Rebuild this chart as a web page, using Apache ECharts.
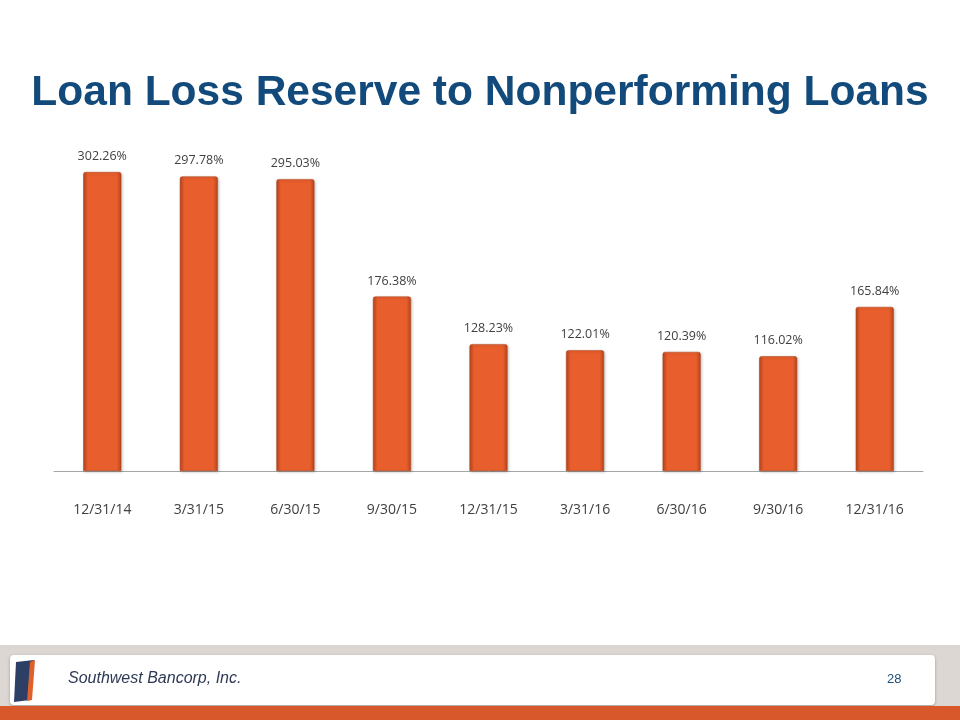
<!DOCTYPE html>
<html><head><meta charset="utf-8">
<script src="https://cdn.jsdelivr.net/npm/echarts@6/dist/echarts.min.js"></script>
<style>html,body{margin:0;padding:0;background:#fff}#c{width:960px;height:720px}</style>
</head><body><div id="c"></div>
<script>
const categories = ['12/31/14','3/31/15','6/30/15','9/30/15','12/31/15','3/31/16','6/30/16','9/30/16','12/31/16'];
const ratioValues = [302.26, 297.78, 295.03, 176.38, 128.23, 122.01, 120.39, 116.02, 165.84];
const titleText = 'Loan Loss Reserve to Nonperforming Loans';
const companyName = 'Southwest Bancorp, Inc.';
const pageNumber = '28';

const chart = echarts.init(document.getElementById('c'), null, {renderer:'canvas'});
const barGrad = new echarts.graphic.LinearGradient(0,0,1,0,[
  {offset:0,color:'#B9451C'},{offset:0.12,color:'#E85E2C'},{offset:0.88,color:'#E85E2C'},{offset:1,color:'#B9451C'}
]);
chart.setOption({
  animation:false,
  title:{text:titleText,left:'center',top:67,textStyle:{fontFamily:'Liberation Sans',fontWeight:'bold',fontSize:42.5,color:'#124B7B'}},
  grid:{left:54,right:37,top:172,bottom:249},
  xAxis:{type:'category',data:categories,
    axisLine:{lineStyle:{color:'#A6A6A6',width:1}},axisTick:{show:false},
    axisLabel:{margin:32,fontFamily:'Open Sans',fontSize:14,color:'#404040'}},
  yAxis:{type:'value',min:0,max:302.26,show:false,splitLine:{show:false}},
  series:[{type:'bar',data:ratioValues,barWidth:38,
    itemStyle:{color:barGrad,borderColor:'#A84018',borderWidth:0.5,borderRadius:[2,2,0,0],shadowColor:'rgba(0,0,0,0.25)',shadowBlur:3,shadowOffsetX:1,shadowOffsetY:1},
    label:{show:true,position:'top',distance:9,formatter:p=>p.value.toFixed(2)+'%',fontFamily:'Open Sans',fontSize:12.5,color:'#404040'}}],
  graphic:[
    {type:'rect',shape:{x:0,y:645,width:960,height:62},style:{fill:'#DCD7D2'},z:-2},
    {type:'rect',shape:{x:10,y:655,width:925,height:50,r:4},style:{fill:'#FFFFFF',shadowColor:'rgba(0,0,0,0.3)',shadowBlur:3,shadowOffsetY:1},z:-1},
    {type:'rect',shape:{x:0,y:706,width:960,height:14},style:{fill:'#D9582B'}},
    {type:'polygon',shape:{points:[[16,662],[34,660],[30,700],[14,702]]},style:{fill:'#2E3F66'}},
    {type:'polygon',shape:{points:[[30,662],[35,660],[32,700],[27,701]]},style:{fill:'#E0602C'}},
    {type:'text',left:68,top:671,style:{text:companyName,font:'italic 16px "Liberation Sans"',fill:'#2E3A55'}},
    {type:'text',left:887,top:673,style:{text:pageNumber,font:'13px "Liberation Sans"',fill:'#1F4E79'}}
  ]
});
</script></body></html>
